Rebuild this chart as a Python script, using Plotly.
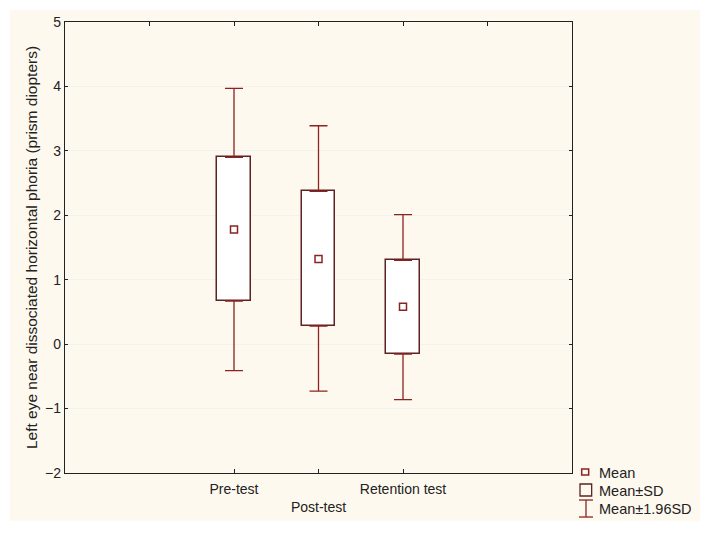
import plotly.graph_objects as go

categories = ["Pre-test", "Post-test", "Retention test"]
tick_labels = ["Pre-test", "<br>Post-test", "Retention test"]
means = [1.78, 1.32, 0.58]
sd_low = [0.67, 0.28, -0.155]
sd_high = [2.90, 2.37, 1.30]
ci_low = [-0.41, -0.73, -0.86]
ci_high = [3.97, 3.39, 2.01]
y_ticks = [-2, -1, 0, 1, 2, 3, 4, 5]

xs = list(range(len(categories)))
WHISK = "#8B2323"
BOXC = "#5E2222"
CREAM = "#FEF9EE"
FONT = "Liberation Sans, Arial, sans-serif"
TXT = "#222222"

fig = go.Figure()

# upper whiskers (from SD top to 1.96SD top)
fig.add_trace(go.Scatter(
    x=xs, y=sd_high, mode="markers", marker=dict(size=1, color="rgba(0,0,0,0)"),
    error_y=dict(type="data", symmetric=False,
                 array=[h - s for h, s in zip(ci_high, sd_high)],
                 arrayminus=[0] * len(xs), color=WHISK, thickness=1.3, width=9),
    showlegend=False, hoverinfo="skip"))
# lower whiskers
fig.add_trace(go.Scatter(
    x=xs, y=sd_low, mode="markers", marker=dict(size=1, color="rgba(0,0,0,0)"),
    error_y=dict(type="data", symmetric=False,
                 array=[0] * len(xs),
                 arrayminus=[s - l for s, l in zip(sd_low, ci_low)],
                 color=WHISK, thickness=1.3, width=9),
    showlegend=False, hoverinfo="skip"))
# SD boxes
fig.add_trace(go.Bar(
    x=xs, base=sd_low, y=[h - l for h, l in zip(sd_high, sd_low)],
    width=0.4, marker=dict(color="white", line=dict(color=BOXC, width=1.5)),
    showlegend=False, hoverinfo="skip"))
# means
fig.add_trace(go.Scatter(
    x=xs, y=means, mode="markers",
    marker=dict(symbol="square-open", size=7, color=WHISK, line=dict(width=1.5)),
    showlegend=False, hoverinfo="skip"))

# top axis ticks
fig.add_trace(go.Scatter(x=[-1, 3], y=[None, None], xaxis="x2", showlegend=False, hoverinfo="skip"))

shapes = [
    # cream background
    dict(type="rect", xref="paper", yref="paper", x0=-0.1085, x1=1.2525, y0=-0.106, y1=1.0266,
         fillcolor=CREAM, line=dict(width=0), layer="below"),
    # legend symbols
    dict(type="rect", xref="paper", yref="paper", x0=1.0191, x1=1.0329, y0=0.0089, y1=-0.0044,
         line=dict(color=WHISK, width=1.5), fillcolor="rgba(0,0,0,0)"),
    dict(type="rect", xref="paper", yref="paper", x0=1.0158, x1=1.0388, y0=-0.0244, y1=-0.0510,
         line=dict(color=BOXC, width=1.3), fillcolor="rgba(0,0,0,0)"),
    dict(type="line", xref="paper", yref="paper", x0=1.0276, x1=1.0276, y0=-0.0599, y1=-0.0976,
         line=dict(color=WHISK, width=1.3)),
    dict(type="line", xref="paper", yref="paper", x0=1.0138, x1=1.0414, y0=-0.0599, y1=-0.0599,
         line=dict(color=WHISK, width=1.3)),
    dict(type="line", xref="paper", yref="paper", x0=1.0138, x1=1.0414, y0=-0.0976, y1=-0.0976,
         line=dict(color=WHISK, width=1.3)),
]

annotations = [
    dict(text=t, xref="paper", yref="paper", x=1.0493, y=yy, xanchor="left", yanchor="middle",
         showarrow=False, font=dict(family=FONT, size=14.5, color=TXT))
    for t, yy in [("Mean", 0.0), ("Mean±SD", -0.0399), ("Mean±1.96SD", -0.0798)]
]

fig.update_layout(
    width=700, height=528,
    margin=dict(l=57, r=136, t=14, b=63),
    paper_bgcolor="white", plot_bgcolor="white",
    font=dict(family=FONT, size=14, color=TXT),
    bargap=0,
    showlegend=False,
    shapes=shapes, annotations=annotations,
    xaxis=dict(range=[-2, 4], tickmode="array", tickvals=xs, ticktext=tick_labels,
               ticks="inside", ticklen=4, tickcolor=TXT, showgrid=False, zeroline=False,
               showline=True, linecolor=TXT, linewidth=1.3, mirror=True,
               ticklabelstandoff=3, automargin=False,
               tickfont=dict(family=FONT, size=14, color=TXT)),
    xaxis2=dict(range=[-2, 4], overlaying="x", side="top", tickmode="array",
                tickvals=[-1, 0, 1, 2, 3], ticks="inside", ticklen=4, tickcolor=TXT,
                showticklabels=False, showgrid=False, zeroline=False, showline=False),
    yaxis=dict(range=[-2, 5], tickmode="array", tickvals=y_ticks,
               ticks="inside", ticklen=3, tickcolor=TXT, showgrid=True,
               gridcolor="#F2F2F2", gridwidth=1, zeroline=False,
               showline=True, linecolor=TXT, linewidth=1.3, mirror="ticks",
               automargin=False,
               title=dict(text="Left eye near dissociated horizontal phoria (prism diopters)",
                          font=dict(family=FONT, size=15.5, color=TXT), standoff=3),
               tickfont=dict(family=FONT, size=14, color=TXT)),
)

fig.write_html("out.html")
